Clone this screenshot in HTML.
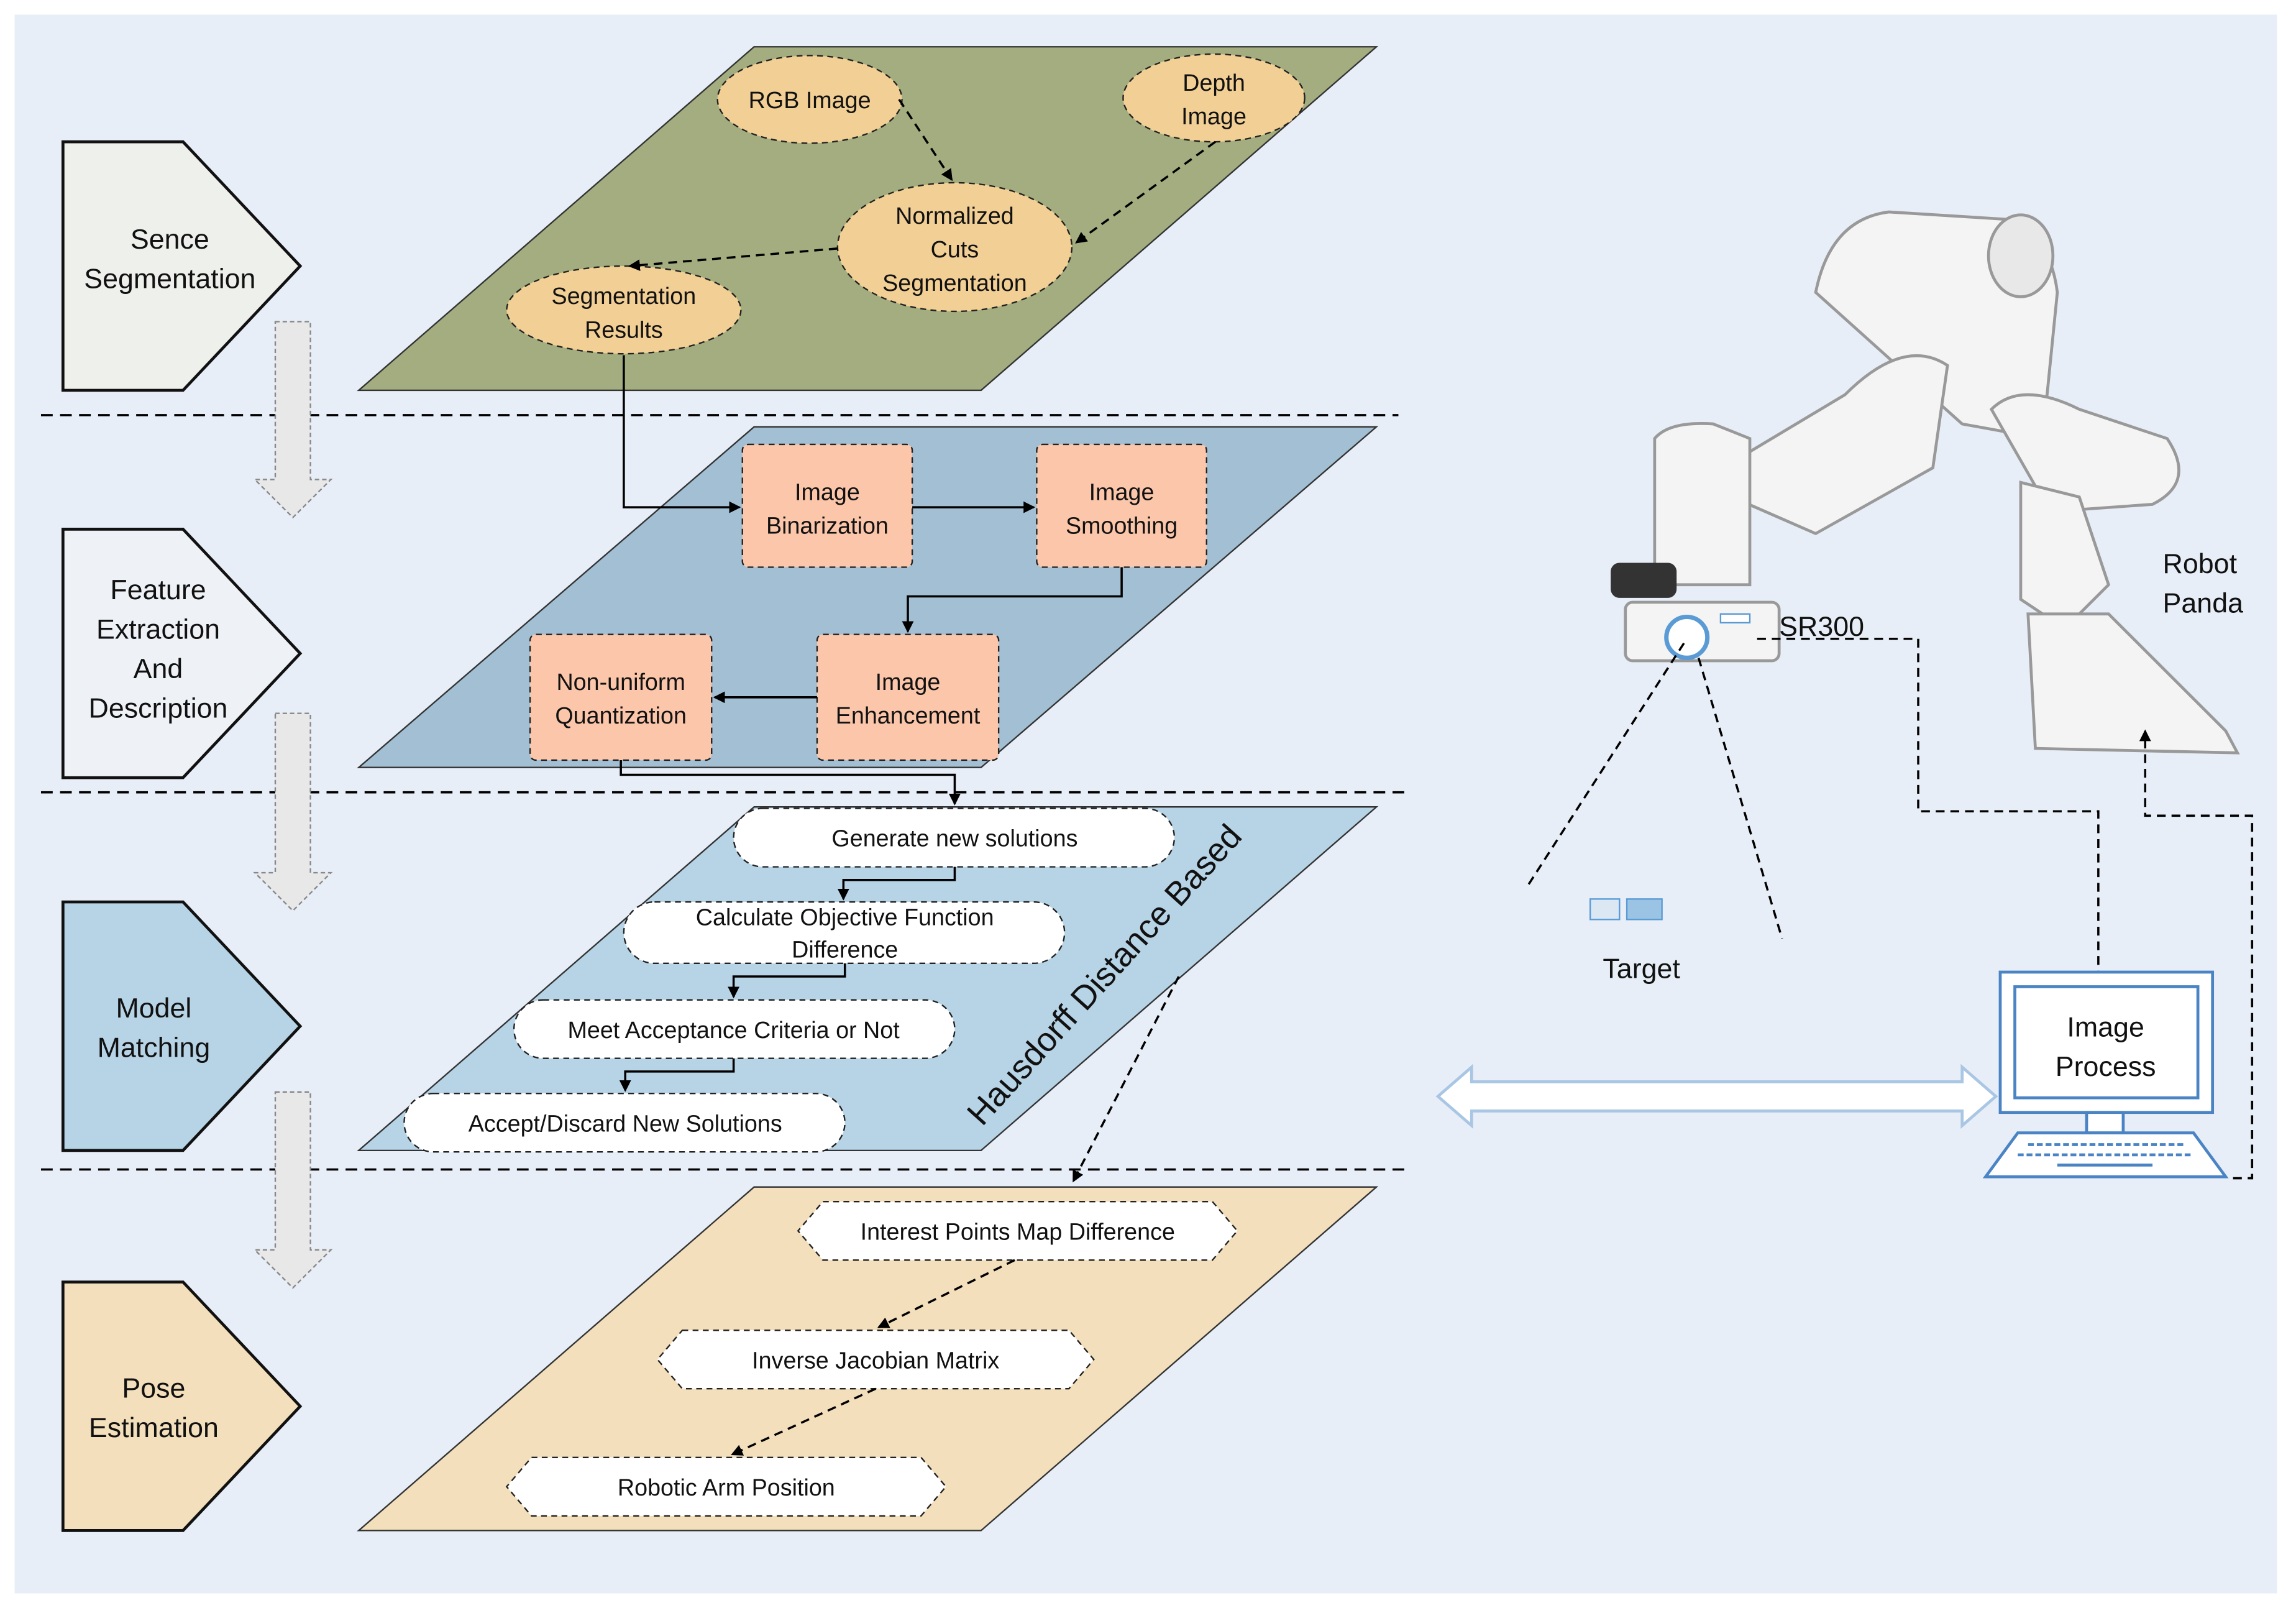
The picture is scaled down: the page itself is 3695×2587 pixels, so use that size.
<!DOCTYPE html>
<html><head><meta charset="utf-8"><style>
html,body{margin:0;padding:0;background:#fff}
svg{display:block}
text{font-family:"Liberation Sans",sans-serif;fill:#111}
</style></head><body>
<svg width="3695" height="2587" viewBox="0 0 1568 1100" preserveAspectRatio="none" xmlns="http://www.w3.org/2000/svg">
<defs>
<marker id="ar" markerWidth="8" markerHeight="8" refX="7" refY="4" orient="auto" markerUnits="userSpaceOnUse"><path d="M0,0 L8,4 L0,8 z" fill="#000"/></marker>
<marker id="ar2" markerWidth="12" markerHeight="12" refX="10" refY="6" orient="auto" markerUnits="userSpaceOnUse"><path d="M0,0 L12,6 L0,12 z" fill="#000"/></marker>
</defs>
<rect x="10" y="10" width="1545" height="1080" fill="#e7eef7"/>
<!-- layers -->
<polygon points="245,267 670,267 940,32 515,32" fill="#a3ad7f" stroke="#333"/>
<polygon points="245,525 670,525 940,292 515,292" fill="#a2bfd4" stroke="#333"/>
<polygon points="245,787 670,787 940,552 515,552" fill="#b7d3e6" stroke="#333"/>
<polygon points="245,1047 670,1047 940,812 515,812" fill="#f3dfbb" stroke="#333"/>
<!-- dashed separators -->
<g stroke="#000" stroke-width="1.5" stroke-dasharray="8,5">
<line x1="28" y1="284" x2="955" y2="284"/>
<line x1="28" y1="542" x2="962" y2="542"/>
<line x1="28" y1="800" x2="962" y2="800"/>
</g>
<!-- left pentagons -->
<g stroke="#111" stroke-width="2">
<polygon points="43,97 125,97 205,182 125,267 43,267" fill="#eef0ec"/>
<polygon points="43,362 125,362 205,447 125,532 43,532" fill="#eef2f6"/>
<polygon points="43,617 125,617 205,702 125,787 43,787" fill="#b7d3e6"/>
<polygon points="43,877 125,877 205,962 125,1047 43,1047" fill="#f3dfbb"/>
</g>
<g font-size="19" text-anchor="middle">
<text x="116" y="170">Sence</text><text x="116" y="197">Segmentation</text>
<text x="108" y="410">Feature</text><text x="108" y="437">Extraction</text><text x="108" y="464">And</text><text x="108" y="491">Description</text>
<text x="105" y="696">Model</text><text x="105" y="723">Matching</text>
<text x="105" y="956">Pose</text><text x="105" y="983">Estimation</text>
</g>
<!-- gray down arrows -->
<g fill="#e8e8e8" stroke="#888" stroke-dasharray="3,2">
<polygon points="188,220 212,220 212,328 226,328 200,354 174,328 188,328"/>
<polygon points="188,488 212,488 212,597 226,597 200,623 174,597 188,597"/>
<polygon points="188,747 212,747 212,855 226,855 200,881 174,855 188,855"/>
</g>
<!-- layer 1 -->
<g fill="#f2cf94" stroke="#222" stroke-dasharray="4,3">
<ellipse cx="553" cy="68" rx="63" ry="30"/>
<ellipse cx="829" cy="67" rx="62" ry="30"/>
<ellipse cx="652" cy="169" rx="80" ry="44"/>
<ellipse cx="426" cy="212" rx="80" ry="30"/>
</g>
<g font-size="16" text-anchor="middle">
<text x="553" y="74">RGB Image</text>
<text x="829" y="62">Depth</text><text x="829" y="85">Image</text>
<text x="652" y="153">Normalized</text><text x="652" y="176">Cuts</text><text x="652" y="199">Segmentation</text>
<text x="426" y="208">Segmentation</text><text x="426" y="231">Results</text>
</g>
<g stroke="#000" stroke-width="1.5" stroke-dasharray="6,4" fill="none">
<line x1="614" y1="68" x2="650" y2="123" marker-end="url(#ar)"/>
<line x1="830" y1="97" x2="735" y2="166" marker-end="url(#ar)"/>
<line x1="572" y1="170" x2="430" y2="182" marker-end="url(#ar)"/>
</g>
<!-- layer 2 -->
<g fill="#fbc6aa" stroke="#222" stroke-dasharray="4,3">
<rect x="507" y="304" width="116" height="84" rx="4"/>
<rect x="708" y="304" width="116" height="84" rx="4"/>
<rect x="558" y="434" width="124" height="86" rx="4"/>
<rect x="362" y="434" width="124" height="86" rx="4"/>
</g>
<g font-size="16" text-anchor="middle">
<text x="565" y="342">Image</text><text x="565" y="365">Binarization</text>
<text x="766" y="342">Image</text><text x="766" y="365">Smoothing</text>
<text x="620" y="472">Image</text><text x="620" y="495">Enhancement</text>
<text x="424" y="472">Non-uniform</text><text x="424" y="495">Quantization</text>
</g>
<g stroke="#000" stroke-width="1.5" fill="none">
<polyline points="426,243 426,347 505,347" marker-end="url(#ar)"/>
<line x1="623" y1="347" x2="706" y2="347" marker-end="url(#ar)"/>
<polyline points="766,388 766,408 620,408 620,432" marker-end="url(#ar)"/>
<line x1="558" y1="477" x2="488" y2="477" marker-end="url(#ar)"/>
<polyline points="424,520 424,530 652,530 652,550" marker-end="url(#ar)"/>
</g>
<!-- layer 3 -->
<g fill="#fff" stroke="#222" stroke-dasharray="4,3">
<rect x="501" y="553" width="301" height="40" rx="20"/>
<rect x="426" y="617" width="301" height="42" rx="21"/>
<rect x="351" y="684" width="301" height="40" rx="20"/>
<rect x="276" y="748" width="301" height="40" rx="20"/>
</g>
<g font-size="16" text-anchor="middle">
<text x="652" y="579">Generate new solutions</text>
<text x="577" y="633">Calculate Objective Function</text><text x="577" y="655">Difference</text>
<text x="501" y="710">Meet Acceptance Criteria or Not</text>
<text x="427" y="774">Accept/Discard  New Solutions</text>
</g>
<g stroke="#000" stroke-width="1.5" fill="none">
<polyline points="652,593 652,602 576,602 576,615" marker-end="url(#ar)"/>
<polyline points="577,659 577,668 501,668 501,682" marker-end="url(#ar)"/>
<polyline points="501,724 501,733 427,733 427,746" marker-end="url(#ar)"/>
</g>
<text x="760" y="672" font-size="23" text-anchor="middle" transform="rotate(-48 760 672)">Hausdorff  Distance Based</text>
<line x1="805" y1="668" x2="733" y2="808" stroke="#000" stroke-width="1.5" stroke-dasharray="6,4" marker-end="url(#ar)"/>
<!-- layer 4 -->
<g fill="#fff" stroke="#222" stroke-dasharray="4,3">
<polygon points="562,822 828,822 845,842 828,862 562,862 545,842"/>
<polygon points="466,910 730,910 747,930 730,950 466,950 449,930"/>
<polygon points="363,997 629,997 646,1017 629,1037 363,1037 346,1017"/>
</g>
<g font-size="16" text-anchor="middle">
<text x="695" y="848">Interest Points Map Difference</text>
<text x="598" y="936">Inverse Jacobian Matrix</text>
<text x="496" y="1023">Robotic Arm  Position</text>
</g>
<g stroke="#000" stroke-width="1.5" stroke-dasharray="6,4" fill="none">
<line x1="693" y1="862" x2="600" y2="908" marker-end="url(#ar)"/>
<line x1="598" y1="950" x2="500" y2="995" marker-end="url(#ar)"/>
</g>
<!-- robot -->
<g fill="#f4f4f4" stroke="#999" stroke-width="2">
<path d="M1240,200 Q1250,150 1290,145 L1370,150 Q1400,160 1405,200 L1395,300 L1340,290 Z"/>
<path d="M1160,330 L1260,270 Q1300,230 1330,250 L1320,320 L1240,365 Z"/>
<path d="M1360,280 Q1380,260 1420,280 L1480,300 Q1500,330 1470,345 L1400,350 Z"/>
<path d="M1380,330 L1420,340 L1440,400 L1410,430 L1380,410 Z"/>
<path d="M1385,420 L1440,420 L1520,500 L1528,515 L1390,512 Z"/>
<path d="M1130,300 Q1140,288 1170,290 L1195,300 L1195,400 L1130,400 Z"/>
<rect x="1110" y="412" width="105" height="40" rx="5"/>
</g>
<ellipse cx="1380" cy="175" rx="22" ry="28" fill="#e8e8e8" stroke="#999" stroke-width="2"/>
<rect x="1100" y="385" width="45" height="24" rx="6" fill="#333"/>
<circle cx="1152" cy="436" r="14" fill="#fff" stroke="#5a9bd5" stroke-width="3"/>
<rect x="1175" y="420" width="20" height="6" fill="#fff" stroke="#5a9bd5"/>
<text x="1215" y="435" font-size="19">SR300</text>
<text x="1477" y="392" font-size="19">Robot</text><text x="1477" y="419" font-size="19">Panda</text>
<g stroke="#000" stroke-width="1.5" stroke-dasharray="6,4" fill="none">
<line x1="1150" y1="440" x2="1042" y2="608"/>
<line x1="1160" y1="450" x2="1217" y2="642"/>
<polyline points="1200,437 1310,437 1310,555 1433,555 1433,674" marker-end="url(#ar)"/>
<polyline points="1525,806 1538,806 1538,558 1465,558 1465,500" marker-end="url(#ar)"/>
</g>
<rect x="1086" y="615" width="20" height="14" fill="#dbe8f4" stroke="#5a9bd5"/>
<rect x="1111" y="615" width="24" height="14" fill="#9bc3e4" stroke="#5a9bd5"/>
<text x="1121" y="669" font-size="19" text-anchor="middle">Target</text>
<!-- double arrow -->
<polygon points="982,750 1005,730 1005,740 1340,740 1340,730 1363,750 1340,770 1340,760 1005,760 1005,770" fill="#fff" stroke="#a9c6e4" stroke-width="2"/>
<!-- computer -->
<rect x="1366" y="665" width="145" height="96" fill="#fff" stroke="#4a84c4" stroke-width="2"/>
<rect x="1376" y="675" width="125" height="76" fill="#fff" stroke="#4a84c4" stroke-width="2"/>
<text x="1438" y="709" font-size="19" text-anchor="middle">Image</text>
<text x="1438" y="736" font-size="19" text-anchor="middle">Process</text>
<rect x="1425" y="761" width="25" height="14" fill="#fff" stroke="#4a84c4" stroke-width="2"/>
<polygon points="1378,775 1498,775 1520,805 1356,805" fill="#fff" stroke="#4a84c4" stroke-width="2"/>
<g stroke="#4a84c4" stroke-width="2">
<line x1="1385" y1="783" x2="1492" y2="783" stroke-dasharray="4,2"/>
<line x1="1378" y1="790" x2="1498" y2="790" stroke-dasharray="4,2"/>
<line x1="1405" y1="797" x2="1470" y2="797"/>
</g>
</svg>
</body></html>
